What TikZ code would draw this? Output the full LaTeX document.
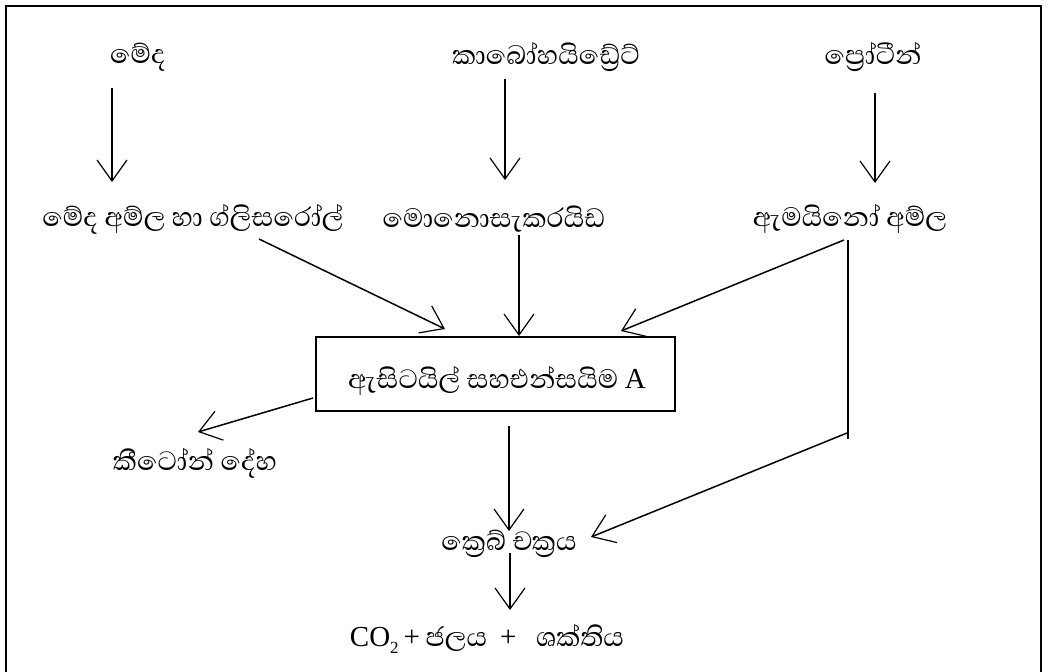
\documentclass[tikz,border=0pt]{standalone}
\usepackage{fontspec}
\setmainfont{Liberation Serif}
\newfontfamily\sinhfont[Script=Sinhala]{Abhaya Libre}
\usetikzlibrary{arrows.meta}
\begin{document}
\begin{tikzpicture}[x=1pt,y=-1pt,
  lbl/.style={font=\sinhfont\fontsize{34}{38}\selectfont, inner sep=0pt},
  latin/.style={font=\rmfamily\fontsize{29}{32}\selectfont},
  arr/.style={line width=1.5pt, -{Straight Barb[length=21pt,width=30pt,line width=1.2pt]}},
  plain/.style={line width=1.5pt},
  boxed/.style={draw, line width=1.5pt, minimum width=359pt, minimum height=74pt, inner sep=0pt}]
\useasboundingbox (0,0) rectangle (1053,672);
% frame
\draw[line width=2.4pt] (6,672) -- (6,6) -- (1041,6) -- (1041,672);

% sources
\node[lbl] (fat)   at (138,57) {මේද};
\node[lbl] (carb)  at (546,57) {කාබෝහයිඩ්‍රේට්};
\node[lbl] (prot)  at (873,57) {ප්‍රෝටීන්};

% digestion products
\node[lbl] (fag)   at (193,219) {මේද අම්ල හා ග්ලිසරෝල්};
\node[lbl] (mono)  at (494,219) {මොනොසැකරයිඩ};
\node[lbl] (amino) at (850,219) {ඇමයිනෝ අම්ල};

% acetyl coenzyme A
\node[boxed] (acoa) at (495.5,374) {};
\node[lbl] (acoat) at (497,381) {ඇසිටයිල් සහඑන්සයිම {\rmfamily\fontsize{29}{32}\selectfont A}};

\node[lbl] (ket)   at (195,463) {කීටෝන් දේහ};
\node[lbl] (krebs) at (509,544) {ක්‍රෙබ් චක්‍රය};
\node[lbl] (prod)  at (487,639) {{\rmfamily\fontsize{29}{32}\selectfont CO\raisebox{-0.5ex}{\fontsize{17}{18}\selectfont 2}\,+}\,ජලය\ \ {\rmfamily\fontsize{29}{32}\selectfont +}\ \ \ ශක්තිය};

% connector end points
\coordinate (f1) at (112,88);  \coordinate (f2) at (112,182);
\coordinate (c1) at (505,79);  \coordinate (c2) at (505,180);
\coordinate (p1) at (875,93);  \coordinate (p2) at (875,183);
\coordinate (g1) at (259,239); \coordinate (g2) at (445,329);
\coordinate (m1) at (519,235); \coordinate (m2) at (519,336);
\coordinate (a1) at (844,240); \coordinate (a2) at (621,331);
\coordinate (j1) at (848,240); \coordinate (j2) at (848,439);
\coordinate (j3) at (847,433); \coordinate (j4) at (591,537);
\coordinate (k1) at (313,398); \coordinate (k2) at (198,432);
\coordinate (b1) at (509,426); \coordinate (b2) at (509,531);
\coordinate (r1) at (510,553); \coordinate (r2) at (510,610);

\draw[arr] (f1) -- (f2);
\draw[arr] (c1) -- (c2);
\draw[arr] (p1) -- (p2);
\draw[arr] (g1) -- (g2);
\draw[arr] (m1) -- (m2);
\draw[arr] (a1) -- (a2);
\draw[plain] (j1) -- (j2);
\draw[arr] (j3) -- (j4);
\draw[arr] (k1) -- (k2);
\draw[arr] (b1) -- (b2);
\draw[arr] (r1) -- (r2);
\end{tikzpicture}
\end{document}
